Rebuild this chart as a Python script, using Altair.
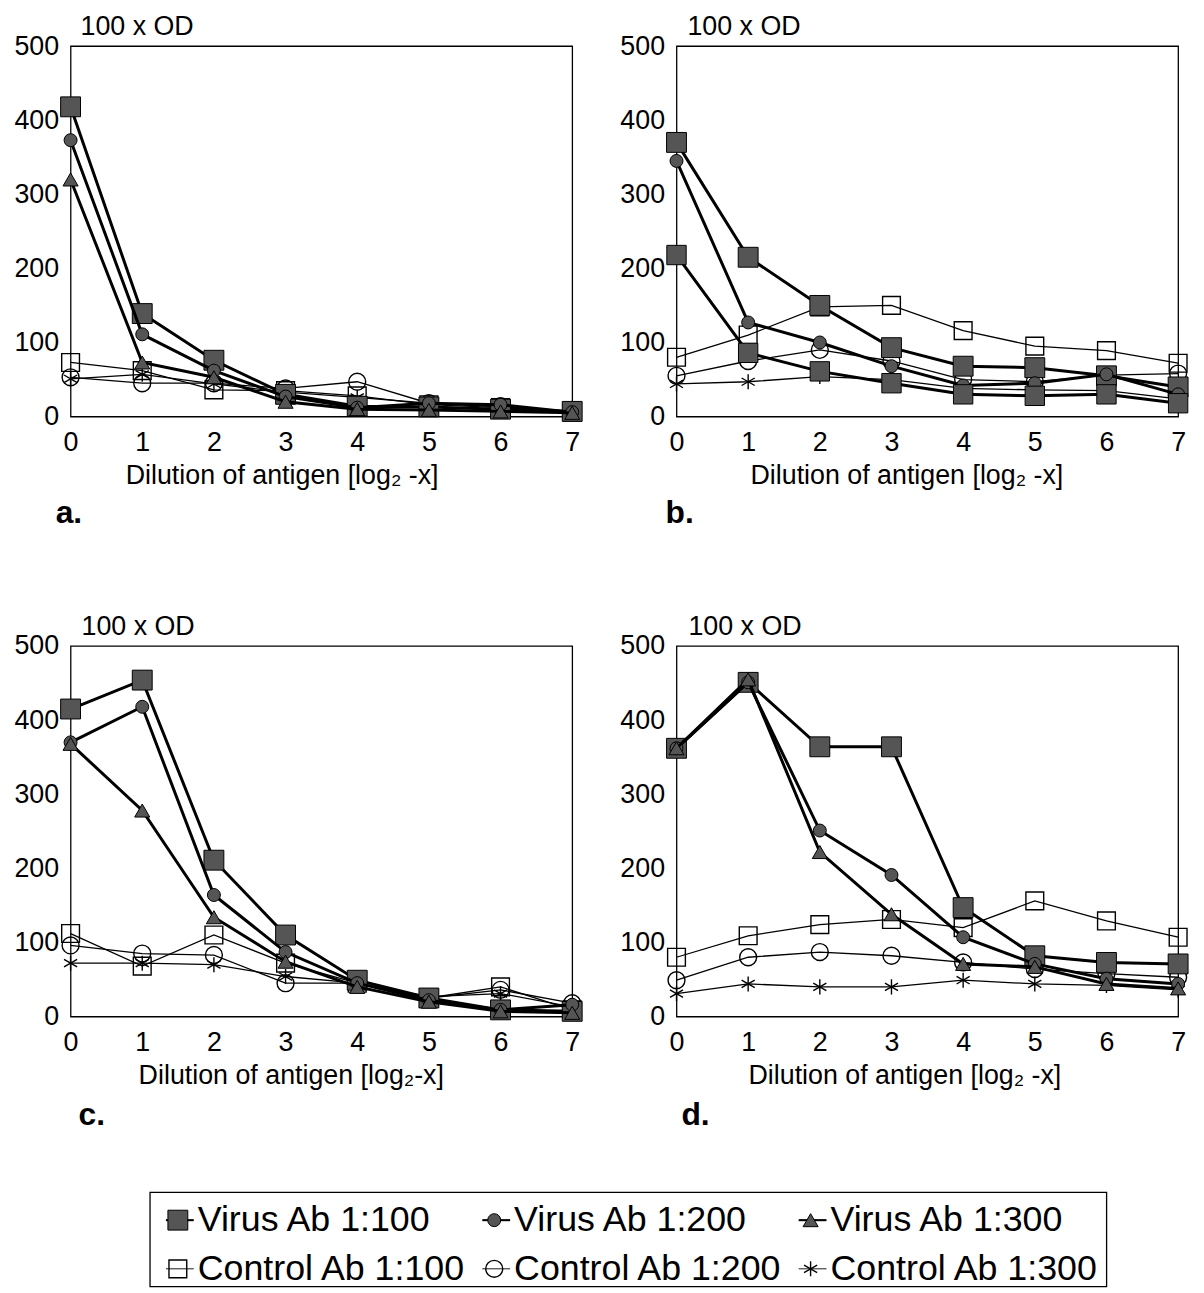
import altair as alt
import pandas as pd

FONT = "Liberation Sans"

x_dilution = [0, 1, 2, 3, 4, 5, 6, 7]
y_ticks = [0, 100, 200, 300, 400, 500]

series_names = ["Virus Ab 1:100", "Virus Ab 1:200", "Virus Ab 1:300",
                "Control Ab 1:100", "Control Ab 1:200", "Control Ab 1:300"]

# panel a
a_v100 = [418, 139, 76, 30, 14, 13, 10, 7]
a_v200 = [373, 111, 62, 27, 12, 18, 16, 6]
a_v300 = [320, 73, 53, 20, 10, 9, 7, 5]
a_c100 = [73, 62, 36, 35, 28, 16, 12, 6]
a_c200 = [53, 45, 45, 38, 47, 18, 14, 7]
a_c300 = [51, 57, 44, 33, 26, 18, 13, 7]

# panel b
b_v100 = [370, 215, 150, 93, 68, 66, 55, 40]
b_v200 = [345, 127, 100, 68, 42, 45, 57, 30]
b_v300 = [218, 86, 61, 45, 30, 28, 30, 18]
b_c100 = [80, 110, 148, 150, 116, 95, 89, 72]
b_c200 = [55, 75, 90, 75, 50, 47, 56, 58]
b_c300 = [44, 47, 54, 50, 38, 36, 35, 24]

# panel c
c_v100 = [415, 454, 211, 110, 49, 25, 9, 7]
c_v200 = [370, 418, 164, 87, 45, 22, 9, 16]
c_v300 = [368, 278, 134, 74, 40, 20, 7, 5]
c_c100 = [112, 68, 110, 72, 45, 25, 40, 9]
c_c200 = [96, 85, 83, 45, 45, 25, 36, 18]
c_c300 = [72, 72, 70, 54, 45, 27, 31, 13]

# panel d
d_v100 = [362, 451, 364, 364, 147, 82, 73, 71]
d_v200 = [362, 451, 251, 191, 107, 71, 51, 44]
d_v300 = [362, 455, 222, 138, 71, 67, 44, 38]
d_c100 = [80, 109, 124, 131, 120, 156, 129, 107]
d_c200 = [49, 80, 87, 82, 73, 64, 58, 53]
d_c300 = [31, 44, 40, 40, 49, 44, 42, 36]

panel_values = {
    "a": [a_v100, a_v200, a_v300, a_c100, a_c200, a_c300],
    "b": [b_v100, b_v200, b_v300, b_c100, b_c200, b_c300],
    "c": [c_v100, c_v200, c_v300, c_c100, c_c200, c_c300],
    "d": [d_v100, d_v200, d_v300, d_c100, d_c200, d_c300],
}

STAR = "M0,-1L0,1M-0.87,-0.5L0.87,0.5M-0.87,0.5L0.87,-0.5"
VFILL = "#555555"
style = {
    "Virus Ab 1:100": dict(shape="square", filled=True, size=400, lw=3.0, sw=1.0),
    "Virus Ab 1:200": dict(shape="circle", filled=True, size=170, lw=3.0, sw=1.0),
    "Virus Ab 1:300": dict(shape="triangle-up", filled=True, size=230, lw=3.0, sw=1.0),
    "Control Ab 1:100": dict(shape="square", filled=False, size=320, lw=1.3, sw=1.4),
    "Control Ab 1:200": dict(shape="circle", filled=False, size=290, lw=1.3, sw=1.4),
    "Control Ab 1:300": dict(shape=STAR, filled=False, size=230, lw=1.3, sw=1.4),
}
# in panel b the printed Virus 1:300 markers appear as squares
shape_override = {("b", "Virus Ab 1:300"): ("square", 380)}

W, H = 505, 373
draw_order = series_names[3:] + series_names[:3]


def point_mark(s, shape=None, size=None, **extra):
    st = style[s]
    shp = shape or st["shape"]
    sz = size or st["size"]
    if st["filled"]:
        return dict(shape=shp, filled=True, fill=VFILL, stroke="black",
                    strokeWidth=st["sw"], size=sz, opacity=1, **extra)
    return dict(shape=shp, filled=False, stroke="black",
                strokeWidth=st["sw"], size=sz, opacity=1, **extra)


def panel(key, xtitle, title_dx, title_y, letter_dx, letter_y, xtitle_x):
    rows = []
    for s, ys in zip(series_names, panel_values[key]):
        for xv, yv in zip(x_dilution, ys):
            rows.append({"series": s, "x": xv, "y": yv})
    df = pd.DataFrame(rows)
    xenc = alt.X("x:Q", scale=alt.Scale(domain=[0, 7], nice=False, zero=False),
                 axis=alt.Axis(values=x_dilution, title=xtitle, labelPadding=13,
                               labelFlush=False, labelOverlap=False,
                               titleAlign="left", titleX=xtitle_x, titleY=67,
                               titleBaseline="alphabetic"))
    yenc = alt.Y("y:Q", scale=alt.Scale(domain=[0, 500], nice=False),
                 axis=alt.Axis(values=y_ticks, title=None, labelPadding=12,
                               labelFlush=False, labelOverlap=False))
    layers = []
    for s in draw_order:
        base = alt.Chart(df).transform_filter(alt.datum.series == s)
        layers.append(base.mark_line(color="black", strokeWidth=style[s]["lw"])
                      .encode(x=xenc, y=yenc))
        shp, sz = shape_override.get((key, s), (None, None))
        layers.append(base.mark_point(**point_mark(s, shape=shp, size=sz))
                      .encode(x=xenc, y=yenc))
    od = alt.Chart(pd.DataFrame({"t": ["100 x OD"]})).mark_text(
        align="left", baseline="alphabetic", font=FONT, fontSize=27, color="black"
    ).encode(text="t:N", x=alt.value(title_dx), y=alt.value(title_y))
    let = alt.Chart(pd.DataFrame({"t": [key + "."]})).mark_text(
        align="left", baseline="alphabetic", font=FONT, fontSize=32,
        fontWeight="bold", color="black"
    ).encode(text="t:N", x=alt.value(letter_dx), y=alt.value(letter_y))
    return alt.layer(*layers, od, let).properties(width=W, height=H)


xt1 = "Dilution of antigen [log\u2082 -x]"
xt2 = "Dilution of antigen [log\u2082-x]"
pa = panel("a", xt1, 10, -11, -15, 480, 55)
pb = panel("b", xt1, 11, -11, -11, 480, 74)
pc = panel("c", xt2, 11, -11, 8, 482, 68)
pd_ = panel("d", xt1, 12, -11, 5, 482, 72)

# legend
LEG_OFF = 80
LEG_W, LEG_H = 963, 95
leg_rows = []
for i, s in enumerate(series_names):
    leg_rows.append({"series": s, "col": i % 3, "row": i // 3, "label": s})
leg_df = pd.DataFrame(leg_rows)
lx = alt.X("col:Q", scale=alt.Scale(domain=[0, 2], range=[LEG_OFF + 48, LEG_OFF + 685]), axis=None)
ly = alt.Y("row:Q", scale=alt.Scale(domain=[0, 1], range=[28, 77]), axis=None)
leg_layers = [
    alt.Chart(pd.DataFrame({"k": [0]})).mark_rect(
        filled=False, stroke="black", strokeWidth=1.3
    ).encode(x=alt.value(LEG_OFF), x2=alt.value(LEG_OFF + LEG_W),
             y=alt.value(0), y2=alt.value(LEG_H))
]
for s in series_names:
    base = alt.Chart(leg_df).transform_filter(alt.datum.series == s)
    leg_layers.append(base.mark_tick(orient="horizontal", size=28,
                                     thickness=style[s]["lw"] * 0.7,
                                     color="black", xOffset=-18, opacity=1)
                      .encode(x=lx, y=ly))
    leg_layers.append(base.mark_point(**point_mark(s, xOffset=-20)).encode(x=lx, y=ly))
leg_layers.append(alt.Chart(leg_df).mark_text(
    align="left", baseline="middle", font=FONT, fontSize=36, color="black"
).encode(x=lx, y=ly, text="label:N"))
legend = alt.layer(*leg_layers).properties(
    width=LEG_OFF + LEG_W, height=LEG_H, view=alt.ViewBackground(stroke=None)
)

grid = alt.vconcat(
    alt.hconcat(pa, pb, spacing=34),
    alt.hconcat(pc, pd_, spacing=34),
    spacing=83,
)
chart = alt.vconcat(grid, legend, spacing=60).configure_view(
    stroke="black", strokeWidth=1.3
).configure_axis(
    labelFont=FONT, labelFontSize=27, labelColor="black",
    titleFont=FONT, titleFontSize=27, titleFontWeight="normal", titleColor="black",
    domain=False, ticks=False, grid=False,
).properties(background="white", padding={"left": 5, "top": 0, "right": 5, "bottom": 0})

chart.save("out.html", embed_options={"renderer": "svg", "actions": False})
